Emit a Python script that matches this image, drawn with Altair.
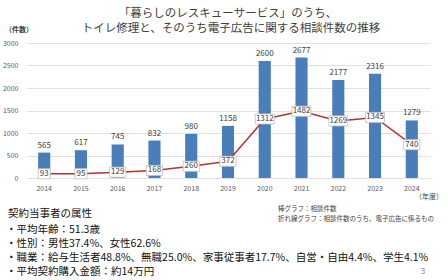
import altair as alt
import pandas as pd

# Consultation counts per fiscal year
years = [str(y) for y in range(2014, 2025)]
total_cases = [565, 617, 745, 832, 980, 1158, 2600, 2677, 2177, 2316, 1279]
online_ad_cases = [93, 95, 129, 168, 260, 372, 1312, 1482, 1269, 1345, 740]
y_ticks = [0, 500, 1000, 1500, 2000, 2500, 3000]

title_lines = [
    "「暮らしのレスキューサービス」のうち、",
    "トイレ修理と、そのうち電子広告に関する相談件数の推移",
]
y_unit = "（件数）"
x_unit = "（年度）"
legend_notes = ["棒グラフ：相談件数", "折れ線グラフ：相談件数のうち、電子広告に係るもの"]
profile_heading = "契約当事者の属性"
profile_lines = [
    "・平均年齢：51.3歳",
    "・性別：男性37.4%、女性62.6%",
    "・職業：給与生活者48.8%、無職25.0%、家事従事者17.7%、自営・自由4.4%、学生4.1%",
    "・平均契約購入金額：約14万円",
]
page_no = "3"

FONT = "Noto Sans CJK JP"
LEFT, TOP, RIGHT, BOTTOM = 26, 43, 18, 102
W, H = 448 - LEFT - RIGHT, 280 - TOP - BOTTOM

df = pd.DataFrame({"year": years, "total": total_cases, "ad": online_ad_cases})

x_scale = alt.Scale(domain=years, paddingInner=0.67, paddingOuter=0.33)
x_axis = alt.Axis(
    title=None, labelAngle=0, ticks=False, domain=False,
    labelFont=FONT, labelFontSize=7, labelColor="#595959", labelPadding=6,
)
y_scale = alt.Scale(domain=[0, 3000], nice=False)
y_axis = alt.Axis(
    title=None, values=y_ticks, format="d", labelOverlap=False,
    ticks=False, domain=False, gridColor="#d9d9d9", gridWidth=0.8,
    labelFont=FONT, labelFontSize=7, labelColor="#595959", labelPadding=8,
)


def X():
    return alt.X("year:N", scale=x_scale, axis=x_axis)


def Y(field):
    return alt.Y(f"{field}:Q", scale=y_scale, axis=y_axis)


base = alt.Chart(df)

bars = base.mark_bar(color="#4a7ebb").encode(x=X(), y=Y("total"))

bar_labels = base.mark_text(
    font=FONT, fontSize=8, color="#404040", baseline="bottom", dy=-3
).encode(x=X(), y=Y("total"), text="total:Q")

line = base.mark_line(color="#b5332e", strokeWidth=1.5).encode(x=X(), y=Y("ad"))

# label boxes sized to the number of digits
box_paths = [
    "M-0.55,-0.46L0.55,-0.46L0.55,0.46L-0.55,0.46Z",
    "M-0.74,-0.46L0.74,-0.46L0.74,0.46L-0.74,0.46Z",
    "M-0.86,-0.46L0.86,-0.46L0.86,0.46L-0.86,0.46Z",
]
boxes = base.transform_calculate(
    digits="toString(length(toString(datum.ad)))"
).mark_point(
    filled=True, fill="white", stroke="#bfbfbf", strokeWidth=0.8, opacity=1, size=484
).encode(
    x=X(),
    y=Y("ad"),
    shape=alt.Shape(
        "digits:N",
        scale=alt.Scale(domain=["2", "3", "4"], range=box_paths),
        legend=None,
    ),
)
box_labels = base.mark_text(
    font=FONT, fontSize=8, color="#404040", baseline="middle"
).encode(x=X(), y=Y("ad"), text="ad:Q")


def note(text, px, py, size, color="#404040", align="left", weight="normal"):
    """Free text placed at page coordinates."""
    return alt.Chart(alt.Data(values=[{}])).mark_text(
        text=text, font=FONT, fontSize=size, color=color, align=align,
        baseline="middle", fontWeight=weight,
    ).encode(x=alt.value(px - LEFT), y=alt.value(py - TOP))


notes = [
    note(title_lines[0], 228, 14, 11.5, align="center"),
    note(title_lines[1], 231, 29, 11.5, align="center"),
    note(y_unit, 19, 30, 7, align="center", weight="bold"),
    note(x_unit, 429, 197, 7, align="center"),
    note(legend_notes[0], 278, 209, 6.5),
    note(legend_notes[1], 278, 219, 6.5),
    note(profile_heading, 8, 214, 10.5, color="#111111"),
    note(page_no, 423, 272, 8, color="#808080", align="center"),
]
for i, t in enumerate(profile_lines):
    notes.append(note(t, 6, 229.5 + i * 14.2, 10.5, color="#111111"))

chart = alt.layer(bars, bar_labels, line, boxes, box_labels, *notes).properties(
    width=W,
    height=H,
    autosize=alt.AutoSizeParams(type="none"),
    padding={"left": LEFT, "top": TOP, "right": RIGHT, "bottom": BOTTOM},
    background="white",
).configure_view(stroke=None)

chart.save("out.html", embed_options={"renderer": "svg", "actions": False})
